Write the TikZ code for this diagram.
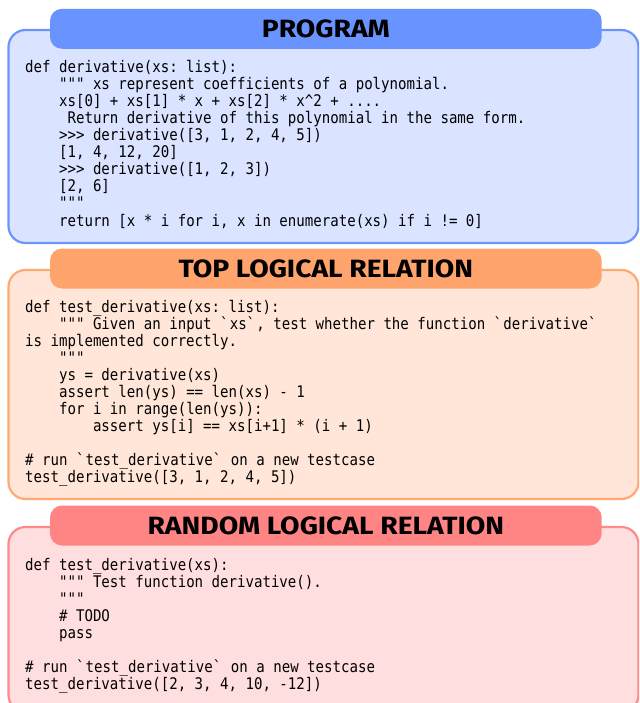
\documentclass[tikz,border=0pt]{standalone}
\usepackage{fontspec}
\newfontfamily\codefont{DejaVu Sans Mono}[FakeStretch=0.88]
\newfontfamily\headfont{Fira Sans}[FakeStretch=1.13]
\definecolor{bluefill}{RGB}{218,227,255}
\definecolor{blueline}{RGB}{108,148,255}
\definecolor{bluehead}{RGB}{105,148,255}
\definecolor{orfill}{RGB}{255,230,217}
\definecolor{orline}{RGB}{255,170,115}
\definecolor{orhead}{RGB}{255,164,108}
\definecolor{rdfill}{RGB}{255,222,224}
\definecolor{rdline}{RGB}{255,138,138}
\definecolor{rdhead}{RGB}{255,133,133}
\newcommand\ind[1]{\hspace*{#1\fontcharwd\font`0}}
\begin{document}
\begin{tikzpicture}[x=1pt,y=-1pt,
  outerbox/.style={rectangle, rounded corners=17pt, line width=2.2pt, minimum width=630pt, inner sep=0pt},
  headbox/.style={rectangle, rounded corners=12pt, minimum width=551.7pt, minimum height=40pt, inner sep=0pt,
     font=\headfont\bfseries\fontsize{25}{27}\selectfont, text=black},
  code/.style={anchor=base west, inner sep=0pt, font=\codefont\fontsize{16}{17}\selectfont\frenchspacing, text=black}]
\useasboundingbox (0,0) rectangle (639,703);
\clip (0,0) rectangle (639,703);
% boxes
\node[outerbox, fill=bluefill, draw=blueline, minimum height=213pt] (b1) at (323.5,136.5) {};
\node[headbox, fill=bluehead] (h1) at (325.85,28.8) {PROGRAM};
\node[outerbox, fill=orfill, draw=orline, minimum height=229pt] (b2) at (323.5,384.5) {};
\node[headbox, fill=orhead] (h2) at (325.85,268.5) {TOP LOGICAL RELATION};
\node[outerbox, fill=rdfill, draw=rdline, minimum height=185pt] (b3) at (323.5,619.5) {};
\node[headbox, fill=rdhead] (h3) at (325.85,525.5) {RANDOM LOGICAL RELATION};
% program code
\node[code] (p0) at (25,73) {def derivative(xs: list):};
\node[code] (p1) at (25,90) {\ind{4}""" xs represent coefficients of a polynomial.};
\node[code] (p2) at (25,107) {\ind{4}xs[0] + xs[1] * x + xs[2] * x\textasciicircum 2 + ....};
\node[code] (p3) at (25,124) {\ind{5}Return derivative of this polynomial in the same form.};
\node[code] (p4) at (25,141) {\ind{4}>>> derivative([3, 1, 2, 4, 5])};
\node[code] (p5) at (25,158) {\ind{4}[1, 4, 12, 20]};
\node[code] (p6) at (25,175) {\ind{4}>>> derivative([1, 2, 3])};
\node[code] (p7) at (25,192) {\ind{4}[2, 6]};
\node[code] (p8) at (25,209) {\ind{4}"""};
\node[code] (p9) at (25,226) {\ind{4}return [x * i for i, x in enumerate(xs) if i != 0]};
% top logical relation code
\node[code] (t0) at (25,312) {def test\_derivative(xs: list):};
\node[code] (t1) at (25,329) {\ind{4}""" Given an input \textasciigrave xs\textasciigrave, test whether the function \textasciigrave derivative\textasciigrave};
\node[code] (t2) at (25,346) {is implemented correctly.};
\node[code] (t3) at (25,363) {\ind{4}"""};
\node[code] (t4) at (25,380) {\ind{4}ys = derivative(xs)};
\node[code] (t5) at (25,397) {\ind{4}assert len(ys) == len(xs) - 1};
\node[code] (t6) at (25,414) {\ind{4}for i in range(len(ys)):};
\node[code] (t7) at (25,431) {\ind{8}assert ys[i] == xs[i+1] * (i + 1)};
\node[code] (t9) at (25,465) {\# run \textasciigrave test\_derivative\textasciigrave\ on a new testcase};
\node[code] (t10) at (25,482) {test\_derivative([3, 1, 2, 4, 5])};
% random logical relation code
\node[code] (r0) at (25,570) {def test\_derivative(xs):};
\node[code] (r1) at (25,587) {\ind{4}""" Test function derivative().};
\node[code] (r2) at (25,604) {\ind{4}"""};
\node[code] (r3) at (25,621) {\ind{4}\# TODO};
\node[code] (r4) at (25,638) {\ind{4}pass};
\node[code] (r6) at (25,672) {\# run \textasciigrave test\_derivative\textasciigrave\ on a new testcase};
\node[code] (r7) at (25,689) {test\_derivative([2, 3, 4, 10, -12])};
\end{tikzpicture}
\end{document}
